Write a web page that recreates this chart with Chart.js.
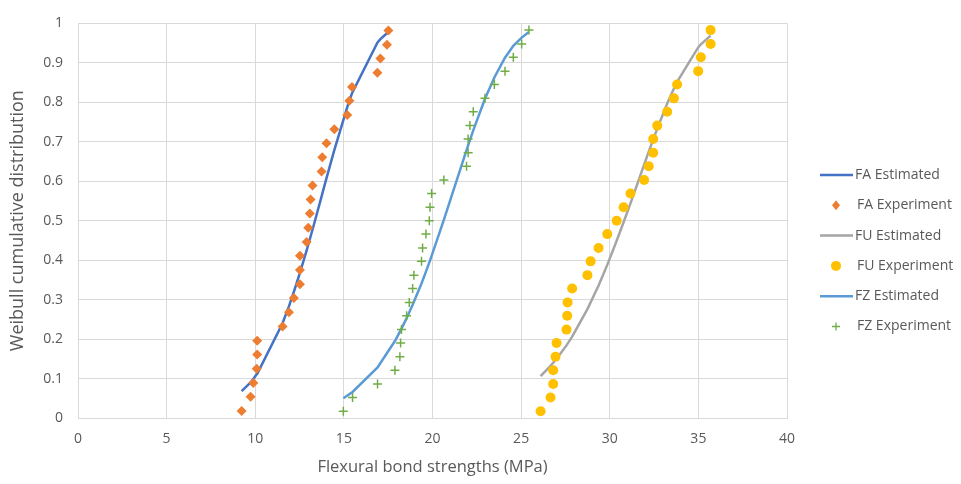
<!DOCTYPE html>
<html>
<head>
<meta charset="utf-8">
<script src="https://cdn.jsdelivr.net/npm/chart.js"></script>
<style>
  html, body { margin: 0; padding: 0; background: #ffffff; }
  #wrap { width: 961px; height: 484px; }
</style>
</head>
<body>
<div id="wrap"><canvas id="weibullChart" width="961" height="484"></canvas></div>
<script>
// experimental strengths (MPa) and their median-rank probabilities
const faExpX = [9.23, 9.74, 9.89, 10.08, 10.11, 10.11, 11.54, 11.9, 12.18, 12.52, 12.52, 12.52, 12.9, 12.99,
  13.08, 13.12, 13.23, 13.74, 13.78, 14.02, 14.46, 15.19, 15.31, 15.46, 16.89, 17.06, 17.43, 17.51];
const faExpY = [0.018, 0.054, 0.089, 0.125, 0.161, 0.196, 0.232, 0.268, 0.304, 0.339, 0.375, 0.411, 0.446, 0.482,
  0.518, 0.554, 0.589, 0.625, 0.661, 0.696, 0.732, 0.768, 0.804, 0.839, 0.875, 0.911, 0.946, 0.982];

const fuExpX = [26.1, 26.66, 26.81, 26.81, 26.94, 27.0, 27.56, 27.6, 27.62, 27.88, 28.74, 28.92, 29.37, 29.86,
  30.39, 30.78, 31.17, 31.94, 32.2, 32.45, 32.45, 32.68, 33.24, 33.62, 33.8, 34.99, 35.14, 35.69, 35.69];
const fzExpX = [14.97, 15.49, 16.9, 17.88, 18.16, 18.2, 18.25, 18.54, 18.69, 18.88, 18.95, 19.38, 19.44, 19.63,
  19.82, 19.86, 19.95, 20.64, 21.92, 22.01, 22.01, 22.11, 22.3, 22.96, 23.49, 24.09, 24.56, 25.03, 25.44];
const rank29Y = [0.017, 0.052, 0.086, 0.121, 0.155, 0.190, 0.224, 0.259, 0.293, 0.328, 0.362, 0.397, 0.431, 0.466,
  0.500, 0.534, 0.569, 0.603, 0.638, 0.672, 0.707, 0.741, 0.776, 0.810, 0.845, 0.879, 0.914, 0.948, 0.983];

// estimated Weibull curves
const faEstX = [9.23, 9.74, 9.89, 10.08, 10.11, 11.54, 11.9, 12.18, 12.52, 12.9, 12.99, 13.08, 13.12, 13.23,
  13.74, 13.78, 14.02, 14.46, 15.19, 15.31, 15.46, 16.89, 17.06, 17.43, 17.51];
const faEstY = [0.068, 0.090, 0.099, 0.111, 0.112, 0.240, 0.283, 0.320, 0.368, 0.425, 0.439, 0.453, 0.460, 0.477,
  0.561, 0.568, 0.608, 0.679, 0.788, 0.804, 0.823, 0.951, 0.960, 0.975, 0.978];
const fuEstX = [26.1, 26.66, 26.81, 27.0, 27.56, 27.88, 28.74, 29.37, 29.86, 30.39, 30.78, 31.17, 31.94, 32.2,
  32.45, 32.68, 33.24, 33.62, 33.8, 34.99, 35.14, 35.69];
const fuEstY = [0.106, 0.132, 0.140, 0.150, 0.184, 0.206, 0.276, 0.336, 0.388, 0.449, 0.496, 0.544, 0.642, 0.675,
  0.706, 0.733, 0.797, 0.835, 0.852, 0.939, 0.947, 0.969];
const fzEstX = [14.97, 15.49, 16.9, 17.88, 18.2, 18.54, 18.88, 19.38, 19.63, 19.86, 20.64, 21.92, 22.01, 22.3,
  22.96, 23.49, 24.09, 24.56, 25.03, 25.44];
const fzEstY = [0.050, 0.066, 0.128, 0.195, 0.222, 0.253, 0.287, 0.341, 0.371, 0.399, 0.502, 0.679, 0.691, 0.729,
  0.809, 0.863, 0.913, 0.943, 0.964, 0.978];

const seriesNames = ['FA Estimated', 'FA Experiment', 'FU Estimated', 'FU Experiment', 'FZ Estimated', 'FZ Experiment'];
const xTickLabels = ['0', '5', '10', '15', '20', '25', '30', '35', '40'];
const yTickLabels = ['0', '0.1', '0.2', '0.3', '0.4', '0.5', '0.6', '0.7', '0.8', '0.9', '1'];

function pts(xs, ys) {
  return xs.map((x, i) => ({ x: x, y: ys[i] }));
}

const FONT = "'Segoe UI', 'Open Sans', sans-serif";
const TEXT = '#595959';
const GRID = '#d9d9d9';

function lineSet(label, data, color, order) {
  return { label, data, showLine: true, borderColor: color, backgroundColor: color,
    borderWidth: 2.5, pointRadius: 0, tension: 0, order };
}
function markSet(label, data, color, style, r, order) {
  return { label, data, showLine: false, pointStyle: style, pointRadius: r, pointHoverRadius: r,
    backgroundColor: color, borderColor: color, borderWidth: style === 'cross' ? 1.5 : 0, order };
}

// legend drawn by hand so line and marker swatches sit like the original
const sideLegend = {
  id: 'sideLegend',
  afterDraw(chart) {
    const ctx = chart.ctx;
    const sets = chart.data.datasets;
    ctx.save();
    ctx.font = '14px ' + FONT;
    ctx.textBaseline = 'middle';
    sets.forEach((ds, i) => {
      const y = 175 + i * 30.3;
      if (ds.showLine) {
        ctx.strokeStyle = ds.borderColor;
        ctx.lineWidth = 2.5;
        ctx.beginPath();
        ctx.moveTo(820, y);
        ctx.lineTo(853, y);
        ctx.stroke();
      } else {
        const cx = 836;
        ctx.fillStyle = ds.backgroundColor;
        ctx.strokeStyle = ds.borderColor;
        ctx.beginPath();
        if (ds.pointStyle === 'rectRot') {
          ctx.moveTo(cx, y - 5); ctx.lineTo(cx + 4, y); ctx.lineTo(cx, y + 5); ctx.lineTo(cx - 4, y);
          ctx.closePath(); ctx.fill();
        } else if (ds.pointStyle === 'circle') {
          ctx.arc(cx, y, 5, 0, Math.PI * 2); ctx.fill();
        } else {
          ctx.lineWidth = 1.3;
          ctx.moveTo(cx - 4, y); ctx.lineTo(cx + 4, y);
          ctx.moveTo(cx, y - 4); ctx.lineTo(cx, y + 4);
          ctx.stroke();
        }
      }
      ctx.fillStyle = TEXT;
      ctx.fillText(ds.label, ds.showLine ? 855 : 857, y);
    });
    ctx.restore();
  }
};

new Chart(document.getElementById('weibullChart'), {
  type: 'scatter',
  data: {
    datasets: [
      lineSet(seriesNames[0], pts(faEstX, faEstY), '#4472c4', 6),
      markSet(seriesNames[1], pts(faExpX, faExpY), '#ed7d31', 'rectRot', 5, 5),
      lineSet(seriesNames[2], pts(fuEstX, fuEstY), '#a5a5a5', 4),
      markSet(seriesNames[3], pts(fuExpX, rank29Y), '#ffc000', 'circle', 5, 3),
      lineSet(seriesNames[4], pts(fzEstX, fzEstY), '#5b9bd5', 2),
      markSet(seriesNames[5], pts(fzExpX, rank29Y), '#70ad47', 'cross', 4.5, 1)
    ]
  },
  options: {
    responsive: false,
    animation: false,
    layout: { padding: { top: 14, right: 174, left: 0, bottom: 0 } },
    plugins: {
      legend: { display: false },
      tooltip: { enabled: false }
    },
    scales: {
      x: {
        type: 'linear', min: 0, max: 40,
        ticks: { stepSize: 5, padding: 13, color: TEXT, font: { family: FONT, size: 14 },
          callback: (v, i) => xTickLabels[i] },
        grid: { color: GRID, drawTicks: false },
        border: { color: GRID },
        title: { display: true, text: 'Flexural bond strengths (MPa)', color: TEXT,
          font: { family: FONT, size: 16.5 }, padding: { top: 0, bottom: 7 } },
        afterFit: (s) => { s.height = 66; }
      },
      y: {
        type: 'linear', min: 0, max: 1,
        ticks: { stepSize: 0.1, padding: 15, color: TEXT, font: { family: FONT, size: 14 },
          callback: (v, i) => yTickLabels[i] },
        grid: { color: GRID, drawTicks: false },
        border: { color: GRID },
        title: { display: true, text: 'Weibull cumulative distribution', color: TEXT,
          font: { family: FONT, size: 18 }, padding: { top: 7, bottom: 0 } },
        afterFit: (s) => { s.width = 78; }
      }
    }
  },
  plugins: [sideLegend]
});
</script>
</body>
</html>
